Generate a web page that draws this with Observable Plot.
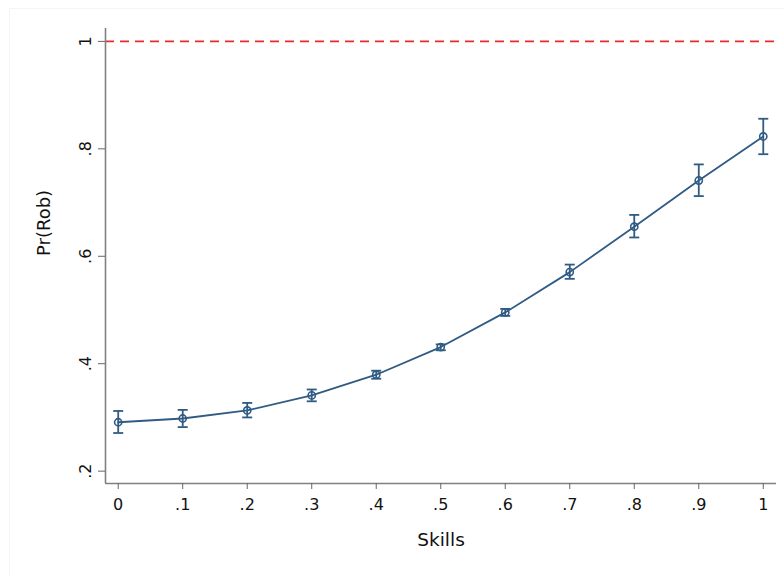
<!DOCTYPE html>
<html>
<head>
<meta charset="utf-8">
<script src="https://cdn.jsdelivr.net/npm/d3@7"></script>
<script src="https://cdn.jsdelivr.net/npm/@observablehq/plot@0.6"></script>
<style>
  html, body { margin: 0; padding: 0; background: #fff; }
  #wrap { position: relative; width: 784px; height: 576px; overflow: hidden; }
  #bg { position: absolute; left: 9px; top: 8px; width: 800px; height: 600px; border: 1px solid #f5f5f5; box-sizing: border-box; }
  #chart { position: absolute; left: 0; top: 0; }
  svg { font-family: "DejaVu Sans", sans-serif; }
</style>
</head>
<body>
<div id="wrap"><div id="bg"></div><div id="chart"></div></div>
<script>
const skills = [0, 0.1, 0.2, 0.3, 0.4, 0.5, 0.6, 0.7, 0.8, 0.9, 1];
const prRob  = [0.291, 0.298, 0.313, 0.341, 0.3795, 0.431, 0.4955, 0.5705, 0.655, 0.741, 0.823];
const ciLow  = [0.271, 0.282, 0.300, 0.330, 0.372, 0.425, 0.489, 0.558, 0.635, 0.712, 0.790];
const ciHigh = [0.312, 0.314, 0.327, 0.352, 0.387, 0.436, 0.502, 0.5845, 0.677, 0.771, 0.856];
const xTicks = [0, 0.1, 0.2, 0.3, 0.4, 0.5, 0.6, 0.7, 0.8, 0.9, 1];
const yTicks = [0.2, 0.4, 0.6, 0.8, 1];
const refLine = [1];

const data = skills.map((s, i) => ({x: s, y: prRob[i], lo: ciLow[i], hi: ciHigh[i]}));
const fmt = d => (d === 0 ? "0" : d === 1 ? "1" : d3.format(".1f")(d).replace(/^0/, ""));

const xDomain = [-0.0197, 1.0205];
const yDomain = [0.177, 1.024];
const navy = "#305b83";
const cap = { draw(ctx, size) { const w = Math.sqrt(size / Math.PI); ctx.moveTo(-w, 0); ctx.lineTo(w, 0); } };

const chart = Plot.plot({
  width: 784,
  height: 576,
  marginLeft: 105,
  marginRight: 8,
  marginTop: 28,
  marginBottom: 93,
  style: { fontFamily: "DejaVu Sans, sans-serif", fontSize: "16px", background: "transparent", color: "#222" },
  x: { domain: xDomain, label: null },
  y: { domain: yDomain, label: null },
  marks: [
    Plot.ruleY(refLine, { y: d => d, stroke: "#ee2828", strokeWidth: 1.6, strokeDasharray: "9,6" }),
    Plot.ruleX([xDomain[0]], { stroke: "#808080", strokeWidth: 1.6 }),
    Plot.ruleY([yDomain[0]], { stroke: "#808080", strokeWidth: 1.6 }),
    Plot.axisX({ ticks: xTicks, tickFormat: fmt, tickSize: 6, tickPadding: 9, stroke: "#666", fontSize: 16, label: null, color: "#111" }),
    Plot.axisY({ ticks: yTicks, tickFormat: fmt, tickSize: 7, tickPadding: 8, tickRotate: -90, stroke: "#666", fontSize: 16, label: null, color: "#111" }),
    Plot.ruleX(data, { x: "x", y1: "lo", y2: "hi", stroke: navy, strokeWidth: 1.8 }),
    Plot.dot(data, { x: "x", y: "lo", symbol: cap, r: 5, stroke: navy, strokeWidth: 1.8 }),
    Plot.dot(data, { x: "x", y: "hi", symbol: cap, r: 5, stroke: navy, strokeWidth: 1.8 }),
    Plot.line(data, { x: "x", y: "y", stroke: navy, strokeWidth: 1.8 }),
    Plot.dot(data, { x: "x", y: "y", r: 3.6, stroke: navy, strokeWidth: 1.6, fill: "white", fillOpacity: 0 }),
    Plot.text(["Skills"], { frameAnchor: "bottom", dy: 62, text: d => d, fontSize: 18.5, fill: "#111" }),
    Plot.text(["Pr(Rob)"], { frameAnchor: "left", dx: -61, rotate: -90, text: d => d, fontSize: 18, fill: "#111" })
  ]
});
document.getElementById("chart").appendChild(chart);
</script>
</body>
</html>
